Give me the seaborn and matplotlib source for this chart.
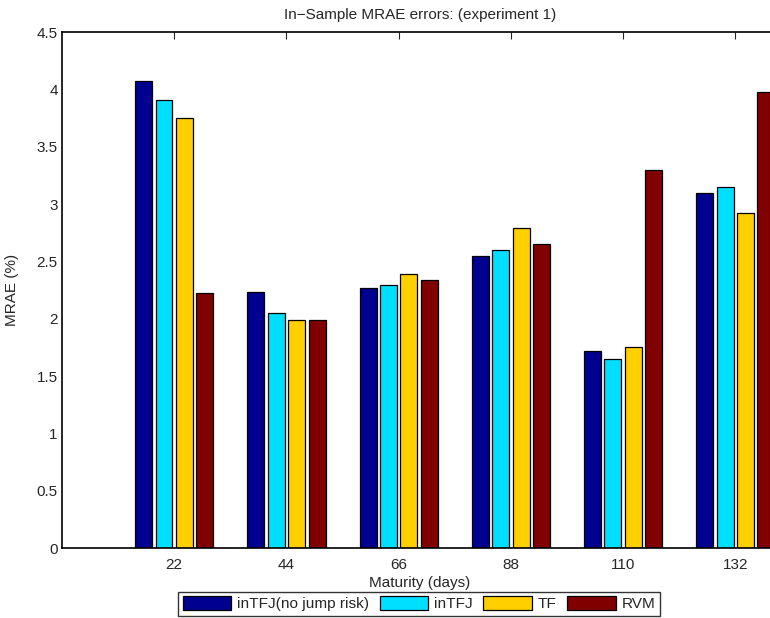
import pandas as pd
import numpy as np
import matplotlib
matplotlib.use('Agg')
import matplotlib.pyplot as plt
import seaborn as sns
from matplotlib.ticker import FormatStrFormatter

# ==========================================
# Data
# ==========================================
maturities = ['22', '44', '66', '88', '110', '132']
models = ['inTFJ(no jump risk)', 'inTFJ', 'TF', 'RVM']
mrae_nojump = [4.07, 2.23, 2.27, 2.55, 1.72, 3.10]
mrae_intfj = [3.91, 2.05, 2.29, 2.60, 1.65, 3.15]
mrae_tf = [3.75, 1.99, 2.39, 2.79, 1.75, 2.92]
mrae_rvm = [2.22, 1.99, 2.34, 2.65, 3.30, 3.98]
colors = ['#000090', '#00DFFF', '#FFCF00', '#800000']

df = pd.DataFrame({
    'Maturity': maturities * 4,
    'MRAE': mrae_nojump + mrae_intfj + mrae_tf + mrae_rvm,
    'Model': np.repeat(models, len(maturities)),
})

# ==========================================
# Plot
# ==========================================
sns.set_style('white')
plt.rcParams['font.family'] = ['Liberation Sans', 'DejaVu Sans']
fs = 11

fig = plt.figure(figsize=(7.7, 6.18), dpi=100)
# axes runs a little past the right edge of the figure like the original export
ax = fig.add_axes([62 / 770, 70 / 618, 716 / 770, 516 / 618])

sns.barplot(data=df, x='Maturity', y='MRAE', hue='Model', order=maturities,
            hue_order=models, palette=colors, width=0.727, gap=0.17,
            edgecolor='black', linewidth=0.9, saturation=1, ax=ax)

ax.set_xlim(-1, 5.38)
ax.set_ylim(0, 4.5)
ax.set_yticks(np.arange(0, 4.51, 0.5))
ax.yaxis.set_major_formatter(FormatStrFormatter('%g'))
ax.tick_params(axis='both', direction='in', length=5, width=0.8,
               labelsize=fs, top=True, right=True, pad=3)
ax.tick_params(axis='x', pad=7)
for s in ax.spines.values():
    s.set_linewidth(1.2)
    s.set_color('black')

ax.set_title('In\u2212Sample MRAE errors: (experiment 1)', fontsize=fs, pad=9)
ax.set_xlabel('Maturity (days)', fontsize=fs, labelpad=3)
ax.set_ylabel('MRAE (%)', fontsize=fs, labelpad=13)

handles, labels = ax.get_legend_handles_labels()
ax.get_legend().remove()
leg = fig.legend(handles, labels, loc='lower left', bbox_to_anchor=(178 / 770, 2 / 618),
                 ncol=4, fontsize=11.1, frameon=True, fancybox=False, edgecolor='black',
                 handlelength=3.15, handleheight=1.0, handletextpad=0.35,
                 columnspacing=0.72, borderpad=0.3, borderaxespad=0)
leg.get_frame().set_linewidth(1.0)

plt.savefig('out.png', dpi=100)
